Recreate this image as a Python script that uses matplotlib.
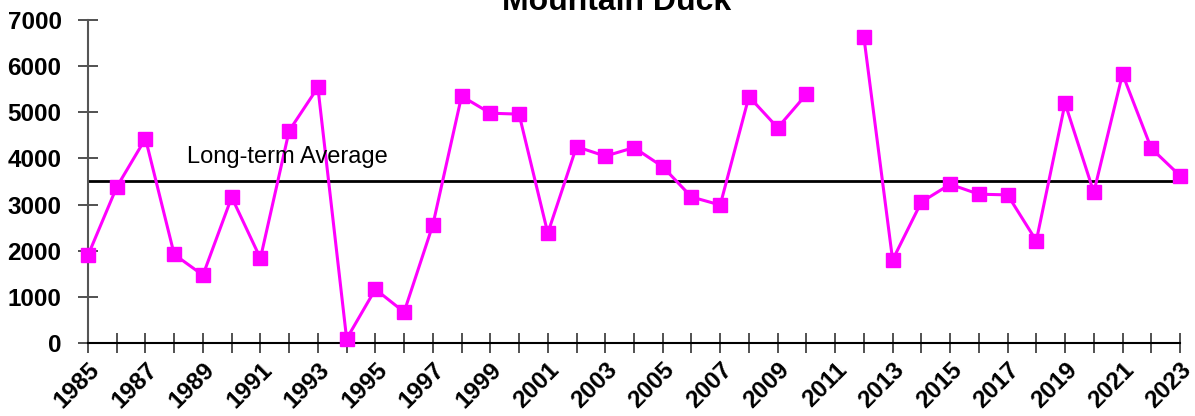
import numpy as np
import matplotlib.pyplot as plt

plt.rcParams['font.family'] = ['Liberation Sans', 'DejaVu Sans']

years = list(range(1985, 2024))
counts = [1900, 3380, 4430, 1920, 1470, 3160, 1835, 4600, 5540, 90,
          1165, 670, 2560, 5350, 4980, 4960, 2380, 4255, 4050, 4235,
          3820, 3165, 2990, 5340, 4665, 5390, np.nan, 6625, 1800, 3055,
          3440, 3225, 3210, 2215, 5195, 3265, 5830, 4220, 3625]
long_term_avg = 3520

fig = plt.figure(figsize=(11.95, 4.16), dpi=100)
ax = fig.add_axes([88/1195, 1 - 343/416, (1180-88)/1195, (343-20)/416])

ax.plot(years, counts, color='#ff00ff', lw=2.2, marker='s', ms=9.5, zorder=3, clip_on=False)
ax.plot([years[0], years[-1]], [long_term_avg, long_term_avg], color='black', lw=2, zorder=2)
ax.text(1988.45, long_term_avg + 280, 'Long-term Average', fontsize=17, va='bottom', ha='left')

ax.set_xlim(1985, 2023)
ax.set_ylim(0, 7000)
ax.set_yticks(range(0, 7001, 1000))
ax.set_xticks(years)
ax.set_xticklabels([str(y) if (y - 1985) % 2 == 0 else '' for y in years],
                   rotation=45, ha='right', rotation_mode='anchor')
for lab in ax.get_xticklabels() + ax.get_yticklabels():
    lab.set_fontweight('bold')
    lab.set_fontsize(17.5)
ax.tick_params(axis='x', direction='inout', length=14, width=1.2, color='#333333', pad=4)
ax.tick_params(axis='y', direction='inout', length=14, width=1.2, color='#333333', pad=12)
ax.spines['top'].set_visible(False)
ax.spines['right'].set_visible(False)
ax.spines['left'].set_color('#555555')
ax.spines['left'].set_linewidth(1.5)
ax.spines['bottom'].set_linewidth(1.5)

fig.text(617/1195, 1 - 10/416, 'Mountain Duck', ha='center', va='baseline',
         fontsize=23, fontweight='bold')

fig.savefig('out.png', dpi=100)
